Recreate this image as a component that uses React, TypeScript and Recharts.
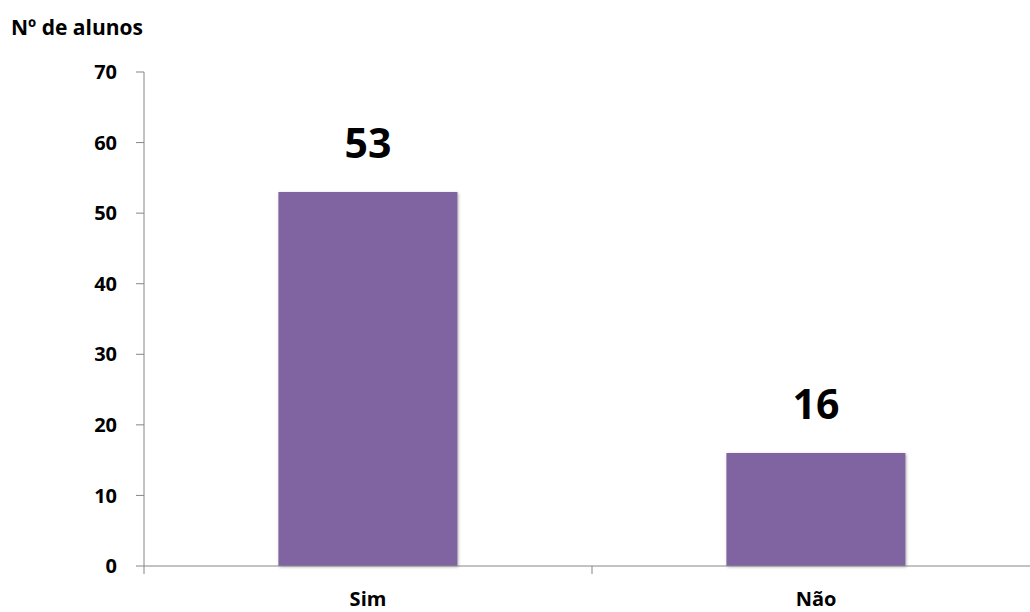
import { BarChart, Bar, XAxis, YAxis, LabelList } from 'recharts'

const categories = ['Sim', 'Não']
const alunos = [53, 16]
const yTicks = [0, 10, 20, 30, 40, 50, 60, 70]

const data = categories.map((c, i) => ({ resposta: c, alunos: alunos[i] }))

const FONT = '"Open Sans", Lato, sans-serif'
const AXIS = '#868686'
const BAND = 448

function CategoryTick(props: any) {
  const { x, y, payload } = props
  return (
    <g>
      <line x1={x - BAND / 2} y1={y - 8} x2={x - BAND / 2} y2={y} stroke={AXIS} strokeWidth={1} />
      <text x={x} y={y + 32} textAnchor="middle" fontSize={20} fontWeight={700} fill="#000" fontFamily={FONT}>
        {payload.value}
      </text>
    </g>
  )
}

export default function App() {
  return (
    <div style={{ position: 'absolute', left: 0, top: 0, width: 1030, height: 612, overflow: 'hidden', background: '#fff' }}>
      <div style={{
        position: 'absolute', left: 11, top: 14, fontFamily: FONT,
        fontWeight: 700, fontSize: 21, color: '#000', lineHeight: '27px',
      }}>
        Nº de alunos
      </div>
      <BarChart
        width={1050}
        height={612}
        data={data}
        margin={{ top: 72, right: 10, bottom: 0, left: 0 }}
        barCategoryGap="30%"
      >
        <XAxis
          dataKey="resposta"
          height={46}
          stroke={AXIS}
          tickLine={false}
          tick={<CategoryTick />}
          interval={0}
        />
        <YAxis
          width={144}
          domain={[0, 70]}
          ticks={yTicks}
          stroke={AXIS}
          tickSize={8}
          tickMargin={19}
          tick={{ fontSize: 20, fontWeight: 700, fill: '#000', fontFamily: FONT }}
        />
        <Bar
          dataKey="alunos"
          fill="#8064A2"
          isAnimationActive={false}
          style={{ filter: 'drop-shadow(1px 1px 1.5px rgba(0,0,0,0.3))' }}
        >
          <LabelList
            dataKey="alunos"
            position="top"
            offset={34}
            style={{ fontSize: 41, fontWeight: 700, fill: '#000', fontFamily: FONT, filter: 'none' }}
          />
        </Bar>
      </BarChart>
    </div>
  )
}
